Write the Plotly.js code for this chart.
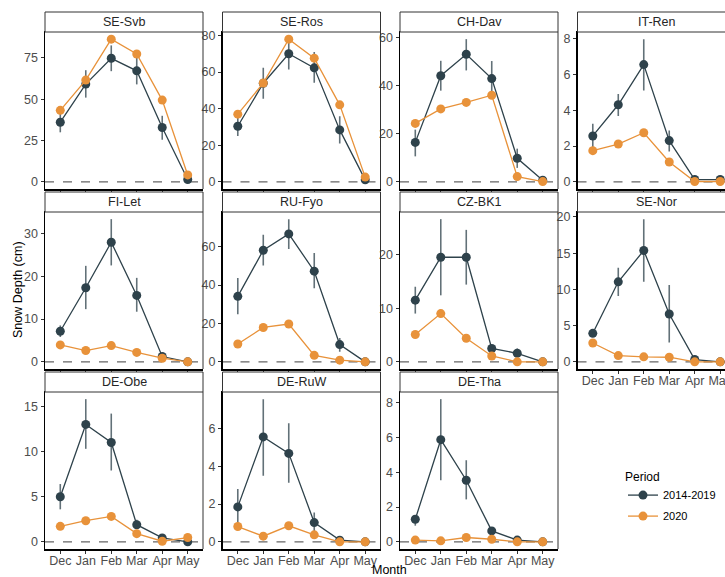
<!DOCTYPE html>
<html><head><meta charset="utf-8">
<script src="https://cdn.plot.ly/plotly-3.0.1.min.js"></script>
<style>html,body{margin:0;padding:0;overflow:hidden;background:#fff}#chart{width:740px;height:577px}</style>
</head><body><div id="chart"></div>
<script>
const months = ['Dec','Jan','Feb','Mar','Apr','May'];
const sites = ['SE-Svb','SE-Ros','CH-Dav','IT-Ren','FI-Let','RU-Fyo','CZ-BK1','SE-Nor','DE-Obe','DE-RuW','DE-Tha'];
const periods = ['2014-2019','2020'];

// 2014-2019 mean snow depth (cm)
const histMean = [
  [36.1,59.2,74.8,67.2,32.9,1.4],
  [30.4,53.9,70.0,62.3,28.4,1.1],
  [16.4,44.1,53.0,42.9,9.8,0.7],
  [2.56,4.3,6.54,2.3,0.13,0.13],
  [7.15,17.3,27.9,15.5,1.24,0],
  [34.1,58.1,66.6,47.2,9.0,0],
  [11.5,19.5,19.5,2.5,1.6,0],
  [3.94,11.05,15.37,6.6,0.32,0],
  [5.0,13.0,11.0,1.9,0.44,0],
  [1.85,5.55,4.68,1.02,0.09,0],
  [1.3,5.87,3.54,0.63,0.1,0]
];
// 2014-2019 upper end of range
const histUpper = [
  [43.5,67.6,82.6,75.0,40.0,2.5],
  [36.8,62.3,76.9,71.0,35.9,1.8],
  [21.7,50.3,59.3,50.2,13.8,1.2],
  [3.24,4.9,7.96,2.87,0.15,0.15],
  [8.5,22.4,33.3,19.6,1.5,0],
  [43.6,66.2,74.3,56.7,12.4,0],
  [14.0,26.6,24.6,2.7,2.5,0],
  [4.4,13.0,19.7,10.6,0.4,0],
  [6.4,15.8,14.2,2.45,0.5,0],
  [2.8,7.55,6.27,1.55,0.12,0],
  [1.54,8.2,4.69,0.8,0.12,0]
];
// 2014-2019 lower end of range
const histLower = [
  [30.0,51.0,67.0,59.0,25.5,0.5],
  [25.0,45.4,61.4,54.1,21.0,0.4],
  [10.6,37.9,46.3,37.5,5.8,0.2],
  [1.89,3.67,5.09,1.7,0.11,0.11],
  [5.8,12.3,22.5,11.7,1.0,0],
  [24.8,50.2,58.8,38.3,5.3,0],
  [9.0,12.4,14.4,2.3,1.0,0],
  [3.5,9.1,11.05,2.66,0.25,0],
  [3.6,10.3,7.9,1.43,0.35,0],
  [0.99,3.5,3.13,0.55,0.06,0],
  [0.93,3.54,2.44,0.5,0.08,0]
];
// 2020 snow depth (cm)
const y2020 = [
  [43.3,61.6,86.4,77.4,49.5,4.2],
  [37.0,54.0,78.0,67.6,42.1,2.6],
  [24.3,30.3,33.0,36.0,2.2,0.1],
  [1.74,2.11,2.74,1.11,0.02,0.02],
  [3.96,2.64,3.8,2.2,0.85,0],
  [9.3,17.9,19.7,3.4,0.9,0],
  [5.1,9.0,4.4,1.1,0,0],
  [2.6,0.87,0.69,0.64,0,0],
  [1.72,2.34,2.82,0.91,0.07,0.48],
  [0.81,0.3,0.85,0.37,0,0],
  [0.1,0.06,0.25,0.15,0,0]
];
// y tick values per panel
const yTicks = [
  [0,25,50,75],[0,20,40,60,80],[0,20,40,60],[0,2,4,6,8],
  [0,10,20,30],[0,20,40,60],[0,10,20],[0,5,10,15,20],
  [0,5,10,15],[0,2,4,6],[0,2,4,6,8]
];

const W = 740, H = 577;
const colLeft = [45, 222.5, 400, 577.5], panelW = 158;
const rowTop = [32, 212, 392], panelH = 157, stripH = 20;
const darkCol = '#2E424B', darkErr = 'rgba(46,66,75,0.75)', orangeCol = '#E8923A';
const FONT = 'Liberation Sans, Arial, sans-serif';

const traces = [], shapes = [], annotations = [];
const layout = {
  width: W, height: H, margin: {l:0, r:0, t:0, b:0},
  paper_bgcolor: '#fff', plot_bgcolor: '#fff',
  font: {family: FONT, size: 12, color: '#000'},
  showlegend: true,
  legend: {x: 623/W, y: 1 - 465/H, xanchor: 'left', yanchor: 'top',
    title: {text: 'Period', font: {size: 12, color:'#000'}}, font: {size: 11, color:'#000'},
    bgcolor: 'rgba(0,0,0,0)', tracegroupgap: 2}
};
const xIdx = months.map((m, j) => j);

sites.forEach((site, i) => {
  const r = Math.floor(i / 4), c = i % 4, k = i + 1;
  const sfx = k === 1 ? '' : String(k);
  const x0 = colLeft[c], y0 = rowTop[r];
  const mean = histMean[i], up = histUpper[i], lo = histLower[i], v20 = y2020[i];
  const minV = Math.min(0, ...lo, ...v20, ...mean);
  const maxV = Math.max(...up, ...v20, ...mean);
  const span = maxV - minV;
  const showLab = (i >= 7);
  layout['xaxis' + sfx] = {
    domain: [x0 / W, (x0 + panelW) / W], anchor: 'y' + sfx,
    range: [-0.6, 5.6], tickvals: xIdx, ticktext: months,
    showticklabels: showLab, ticks: 'outside', ticklen: 3, tickcolor: '#333', tickwidth: 1,
    ticklabelstandoff: -4,
    tickfont: {size: 12.5, color: '#4d4d4d'},
    showline: true, linecolor: '#000', linewidth: 1.5, mirror: true,
    showgrid: false, zeroline: false, fixedrange: true
  };
  layout['yaxis' + sfx] = {
    domain: [1 - (y0 + panelH) / H, 1 - y0 / H], anchor: 'x' + sfx,
    range: [minV - 0.05 * span, maxV + 0.05 * span], tickvals: yTicks[i],
    ticks: 'outside', ticklen: 3, tickcolor: '#333', tickwidth: 1,
    tickfont: {size: 12.5, color: '#4d4d4d'},
    showline: true, linecolor: '#000', linewidth: 1.5,
    showgrid: false, zeroline: false, fixedrange: true
  };
  // dashed zero line
  shapes.push({type: 'line', xref: 'x' + sfx + ' domain', yref: 'y' + sfx,
    x0: 0, x1: 1, y0: 0, y1: 0, line: {color: '#666', width: 1.2, dash: 'dash'}, layer: 'below'});
  // right border
  shapes.push({type: 'line', xref: 'paper', yref: 'paper',
    x0: (x0 + panelW) / W, x1: (x0 + panelW) / W, y0: 1 - (y0 + panelH) / H, y1: 1 - y0 / H,
    line: {color: '#333', width: 1}});
  // strip
  shapes.push({type: 'rect', xref: 'paper', yref: 'paper',
    x0: x0 / W, x1: (x0 + panelW) / W, y0: 1 - y0 / H, y1: 1 - (y0 - stripH) / H,
    fillcolor: '#fff', line: {color: '#333', width: 1}});
  annotations.push({xref: 'paper', yref: 'paper', x: (x0 + panelW / 2) / W, y: 1 - (y0 - stripH / 2) / H,
    text: site, showarrow: false, xanchor: 'center', yanchor: 'middle', font: {size: 12.5, color: '#262626'}});

  traces.push({
    type: 'scatter', mode: 'lines+markers', x: xIdx, y: mean, xaxis: 'x' + sfx, yaxis: 'y' + sfx,
    name: periods[0], legendgroup: periods[0], showlegend: i === 0,
    line: {color: darkCol, width: 1.3}, marker: {color: darkCol, size: 9},
    error_y: {type: 'data', symmetric: false, array: up.map((u, j) => u - mean[j]),
      arrayminus: lo.map((l, j) => mean[j] - l), width: 0, thickness: 1.6, color: darkErr},
    hoverinfo: 'skip'
  });
  traces.push({
    type: 'scatter', mode: 'lines+markers', x: xIdx, y: v20, xaxis: 'x' + sfx, yaxis: 'y' + sfx,
    name: periods[1], legendgroup: periods[1], showlegend: i === 0,
    line: {color: orangeCol, width: 1.3}, marker: {color: orangeCol, size: 9},
    hoverinfo: 'skip'
  });
});

annotations.push({xref: 'paper', yref: 'paper', x: 18 / W, y: 1 - 290 / H, text: 'Snow Depth (cm)',
  textangle: -90, showarrow: false, xanchor: 'center', yanchor: 'middle', font: {size: 12.5, color: '#000'}});
annotations.push({xref: 'paper', yref: 'paper', x: 390 / W, y: 1 - 570 / H, text: 'Month',
  showarrow: false, xanchor: 'center', yanchor: 'middle', font: {size: 12.5, color: '#000'}});

layout.shapes = shapes;
layout.annotations = annotations;
Plotly.newPlot('chart', traces, layout, {staticPlot: true, displayModeBar: false});
</script></body></html>
